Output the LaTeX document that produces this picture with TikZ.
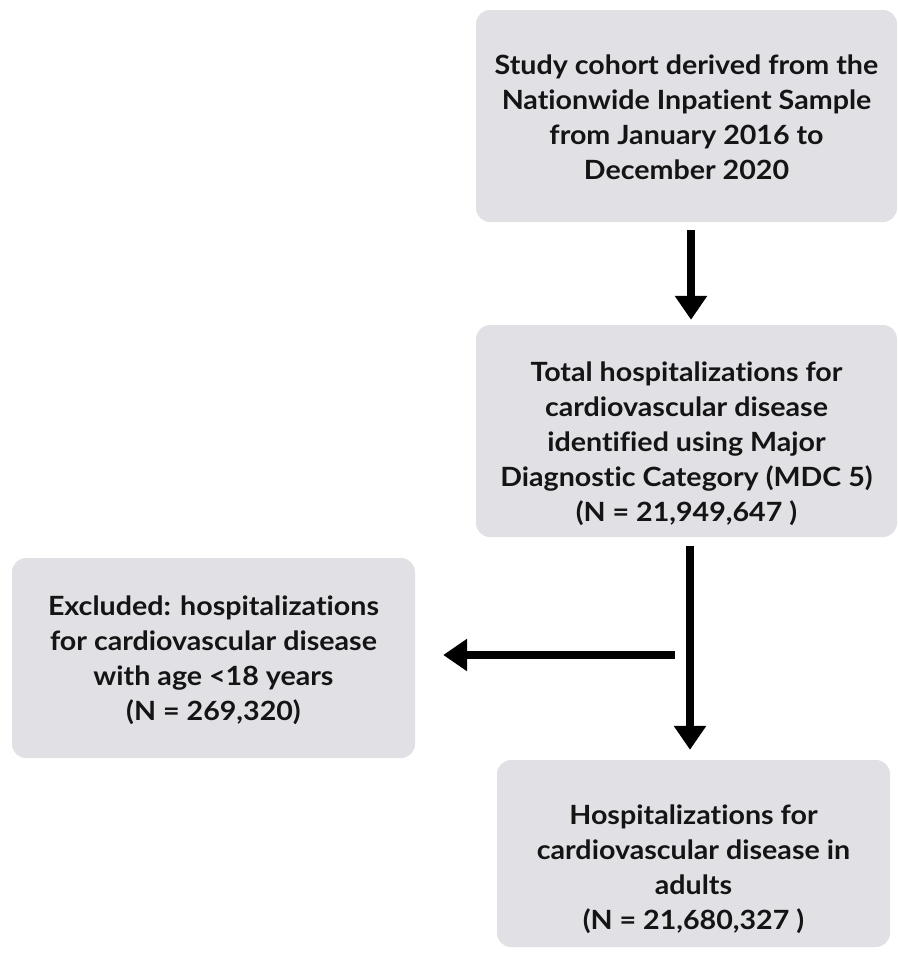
\documentclass[tikz,border=0pt]{standalone}
\usepackage{fontspec}
\setmainfont{Lato}[FakeStretch=1.08, Ligatures=NoCommon]
\usetikzlibrary{arrows.meta}
\definecolor{boxgray}{RGB}{224,224,229}
\tikzset{
  box/.style={fill=boxgray, rounded corners=14pt, inner sep=0pt},
  boxtext/.style={align=center, inner sep=0pt,
    font=\fontsize{26.5}{35}\selectfont\bfseries, text=black!92},
  arr/.style={line width=7.5pt, -{Triangle[width=31pt,length=24pt]}, black}
}
\begin{document}
\begin{tikzpicture}[x=1pt,y=-1pt]
\useasboundingbox (0,0) rectangle (897,953);
\node[box, minimum width=421pt, minimum height=212pt] (b1) at (686.5,116) {};
\node[boxtext] (b1t) at ([yshift=-1pt]b1.center)
  {Study cohort derived from the\\Nationwide Inpatient Sample\\from January 2016 to\\December 2020};
\node[box, minimum width=421pt, minimum height=212pt] (b2) at (686.5,431) {};
\node[boxtext] (b2t) at ([yshift=-13pt]b2.center)
  {Total hospitalizations for\\cardiovascular disease\\identified using Major\\Diagnostic Category (MDC 5)\\(N = 21,949,647 )};
\node[box, minimum width=403pt, minimum height=200pt] (b3) at (213.5,658) {};
\node[boxtext] (b3t) at ([yshift=-2pt]b3.center)
  {Excluded: hospitalizations\\for cardiovascular disease\\with age <18 years\\(N = 269,320)};
\node[box, minimum width=393pt, minimum height=187pt] (b4) at (693.5,853.5) {};
\node[boxtext] (b4t) at ([yshift=-16pt]b4.center)
  {Hospitalizations for\\cardiovascular disease in\\adults\\(N = 21,680,327 )};
\coordinate (split) at (675,655);
\draw[arr, shorten <=8pt, shorten >=5pt] ([xshift=4.5pt]b1.south) -- ([xshift=4.5pt]b2.north);
\draw[arr, shorten <=9pt, shorten >=10pt] ([xshift=3.5pt]b2.south) -- ([xshift=3.5pt]b2.south |- b4.north);
\draw[arr, shorten >=28pt] (split) -- (split -| b3.east);
\end{tikzpicture}
\end{document}
